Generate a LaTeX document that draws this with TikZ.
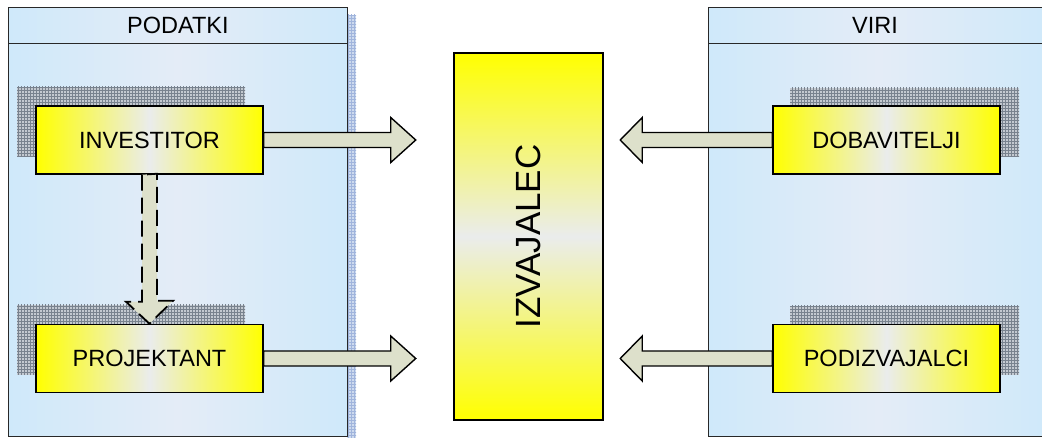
\documentclass[tikz,border=0pt]{standalone}
\usepackage{fontspec}
\setmainfont{Liberation Sans}
\usetikzlibrary{calc,patterns}
\definecolor{panelblue}{RGB}{207,233,250}
\definecolor{panelmid}{RGB}{228,236,247}
\definecolor{boxyel}{RGB}{255,255,0}
\definecolor{boxmid}{RGB}{234,236,236}
\definecolor{arrowfill}{RGB}{221,224,203}
\definecolor{shadowbg}{RGB}{195,201,208}
\definecolor{shadowgrid}{RGB}{120,130,142}
\definecolor{stripbg}{RGB}{205,218,238}
\definecolor{stripgrid}{RGB}{160,180,220}
\definecolor{edgegray}{RGB}{40,40,40}
\tikzset{
  panelbox/.style={draw=edgegray, line width=0.9pt, left color=panelblue, right color=panelblue, middle color=panelmid, inner sep=0pt, anchor=north west},
  paneltitle/.style={font=\fontsize{23.5}{26}\selectfont, text=black},
  actor/.style={draw=black, line width=1.5pt, left color=boxyel, right color=boxyel, middle color=boxmid, minimum width=227pt, minimum height=68pt, inner sep=0pt, font=\fontsize{23.5}{26}\selectfont},
  shadowrect/.style={fill=shadowbg, postaction={pattern=grid, pattern color=shadowgrid}},
  blockarrow/.style={draw=black, line width=1.4pt, fill=arrowfill, line join=miter},
  dasharrow/.style={draw=black, line width=1.8pt, fill=arrowfill, dash pattern=on 16pt off 7pt, line join=miter}
}
\begin{document}
\begin{tikzpicture}[x=1pt,y=-1pt]
\useasboundingbox (0,0) rectangle (1042,438);
\clip (0,0) rectangle (1042,438);
% left panel
\fill[fill=stripbg, postaction={pattern=grid, pattern color=stripgrid}] (347,15) rectangle (356,440);
\node[panelbox, minimum width=339pt, minimum height=36pt] (ltitle) at (8,7) {};
\node[panelbox, minimum width=339pt, minimum height=393pt] (lbody) at (8,43) {};
\node[paneltitle] (ltext) at (ltitle.center) {PODATKI};
% right panel
\node[panelbox, minimum width=340pt, minimum height=36pt] (rtitle) at (708,7) {};
\node[panelbox, minimum width=340pt, minimum height=393pt] (rbody) at (708,43) {};
\node[paneltitle] (rtext) at (875,25) {VIRI};
% shadows
\fill[shadowrect] (17,87) rectangle (245,157);
\fill[shadowrect] (17,305) rectangle (245,375);
\fill[shadowrect] (790,88) rectangle (1019,157);
\fill[shadowrect] (790,306) rectangle (1019,375);
% actor boxes
\node[actor] (inv) at (149.5,140) {INVESTITOR};
\node[actor] (proj) at (149.5,358.5) {PROJEKTANT};
\node[actor] (dob) at (886.5,140) {DOBAVITELJI};
\node[actor] (podiz) at (886.5,358.5) {PODIZVAJALCI};
% central box
\node[draw=black, line width=1.5pt, top color=boxyel, bottom color=boxyel, middle color=boxmid, minimum width=149pt, minimum height=367pt, inner sep=0pt] (izv) at (528.5,236.5) {};
\node[rotate=90, font=\fontsize{35}{38}\selectfont] (izvtext) at (izv.center) {IZVAJALEC};
% block arrows to IZVAJALEC
\draw[blockarrow] (inv.east) ++(0,-7.5) -- ++(127,0) -- ++(0,-15) -- ++(25,22.5) -- ++(-25,22.5) -- ++(0,-15) -- ++(-127,0) -- cycle;
\draw[blockarrow] (proj.east) ++(0,-7.5) -- ++(127,0) -- ++(0,-15) -- ++(25,22.5) -- ++(-25,22.5) -- ++(0,-15) -- ++(-127,0) -- cycle;
\draw[blockarrow] (dob.west) ++(0,-7.5) -- ++(-130,0) -- ++(0,-15) -- ++(-22,22.5) -- ++(22,22.5) -- ++(0,-15) -- ++(130,0) -- cycle;
\draw[blockarrow] (podiz.west) ++(0,-7.5) -- ++(-130,0) -- ++(0,-15) -- ++(-22,22.5) -- ++(22,22.5) -- ++(0,-15) -- ++(130,0) -- cycle;
% dashed arrow investitor -> projektant
\draw[dasharrow] (inv.south) ++(-7.5,0) -- ++(0,127) -- ++(-16,0) -- (proj.north) -- ++(23.5,-23) -- ++(-16,0) -- ++(0,-127) -- cycle;
\end{tikzpicture}
\end{document}
